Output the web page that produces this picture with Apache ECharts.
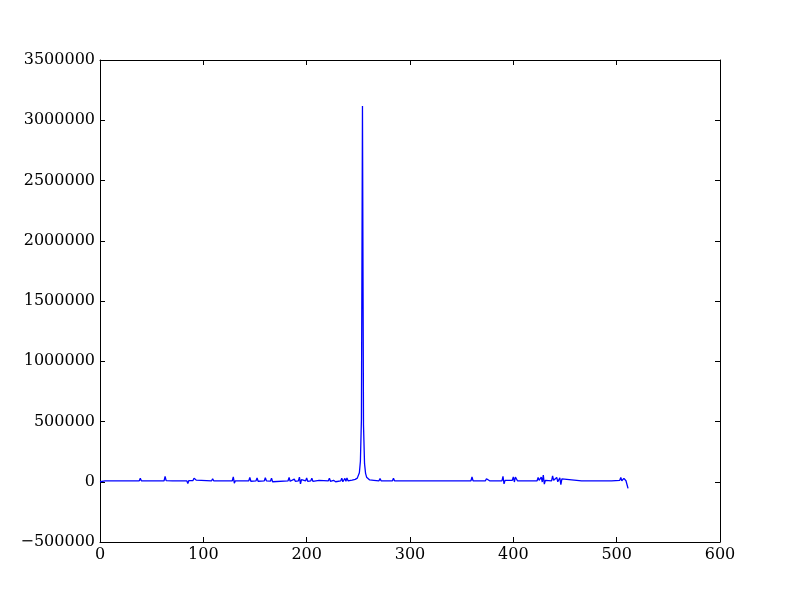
<!DOCTYPE html>
<html>
<head>
<meta charset="utf-8">
<script src="https://cdn.jsdelivr.net/npm/echarts@6/dist/echarts.min.js"></script>
<style>html,body{margin:0;padding:0;background:#fff}#c{width:800px;height:602px}</style>
</head>
<body>
<div id="c"></div>
<script>
// Sample index (x) and value (y) (grouped line by line)
const xs = [
  0,5, 38,39,40, 62,63,64, 70, 84,85,86, 90,91,92,93,94,
  108,109,110, 128,129,130,131, 144,145,146, 151,152,153, 159,160,161, 165,166,167,
  182,183,184, 188,189, 192,193,194,195, 199,200,201, 204,205,206, 212,
  221,222,223, 226,227,228, 233,234,235, 237,238,239,240, 244,247,249,
  250,251,252,253,254,255,256,257,258,259, 261,265,
  270,271,272, 283,284,285, 298,299,300, 340,
  359,360,361, 373,374,375,377, 389,390,391,392, 399,400,401,402,403,404,
  423,424,425, 427,428,429,430,431, 437,438,439, 442,443, 445,446,447,448,
  466,467,468, 480,495, 503,504,505, 507,508,509,510,511
];
const ys = [
  0,8000, 8000,28000,8000, 8000,45000,10000, 8000, 8000,-15000,10000, 10000,30000,42000,14000,8000,
  8000,25000,8000, 8000,40000,-12000,8000, 8000,35000,4000, 8000,32000,4000, 8000,33000,8000, 6000,30000,0,
  8000,35000,4000, 22000,4000, 8000,38000,-18000,18000, 8000,32000,4000, 8000,30000,4000, 12000,
  8000,30000,4000, 12000,28000,0, 8000,30000,0, 28000,4000,32000,8000, 14000,20000,30000,
  45000,75000,170000,520000,3118000,470000,150000,70000,38000,24000, 15000,12000,
  8000,26000,8000, 8000,28000,8000, 8000,22000,8000, 8000,
  8000,40000,8000, 8000,25000,12000,8000, 8000,45000,-18000,12000, 12000,40000,-2000,38000,50000,8000,
  8000,35000,12000, 38000,-2000,55000,-20000,12000, 8000,48000,12000, 36000,0, 32000,-25000,24000,8000,
  8000,22000,8000, 8000,8000, 12000,35000,8000, 28000,38000,8000,4000,-55000
];
const xTicks = [0,100,200,300,400,500,600];
const yTicks = [-500000,0,500000,1000000,1500000,2000000,2500000,3000000,3500000];

const font = {fontFamily:'DejaVu Serif', fontSize:16, color:'#000'};
const fmt = v => String(v).replace('-', '\u2212');
const tick = {show:true, inside:true, length:5, lineStyle:{color:'#000', width:1}};
const line = {show:true, onZero:false, lineStyle:{color:'#000', width:1}};
const chart = echarts.init(document.getElementById('c'), null, {renderer:'canvas'});
chart.setOption({
  animation:false,
  backgroundColor:'#fff',
  grid:{left:100, right:80, top:60, bottom:60, show:false},
  xAxis:[
    {type:'value', min:xTicks[0], max:xTicks[xTicks.length-1], interval:100, position:'bottom',
     axisLine:line, axisTick:tick, splitLine:{show:false},
     axisLabel:Object.assign({margin:5, formatter:fmt}, font)},
    {type:'value', min:xTicks[0], max:xTicks[xTicks.length-1], interval:100, position:'top',
     axisLine:line, axisTick:tick, splitLine:{show:false}, axisLabel:{show:false}}
  ],
  yAxis:[
    {type:'value', min:yTicks[0], max:yTicks[yTicks.length-1], interval:500000, position:'left',
     axisLine:line, axisTick:tick, splitLine:{show:false},
     axisLabel:Object.assign({margin:5, formatter:fmt}, font)},
    {type:'value', min:yTicks[0], max:yTicks[yTicks.length-1], interval:500000, position:'right',
     axisLine:line, axisTick:tick, splitLine:{show:false}, axisLabel:{show:false}}
  ],
  series:[{
    type:'line', xAxisIndex:0, yAxisIndex:0,
    data: xs.map((x,i)=>[x, ys[i]]),
    showSymbol:false, symbol:'none', smooth:false,
    lineStyle:{color:'#0000ff', width:1.3},
    silent:true
  }]
});
</script>
</body>
</html>
